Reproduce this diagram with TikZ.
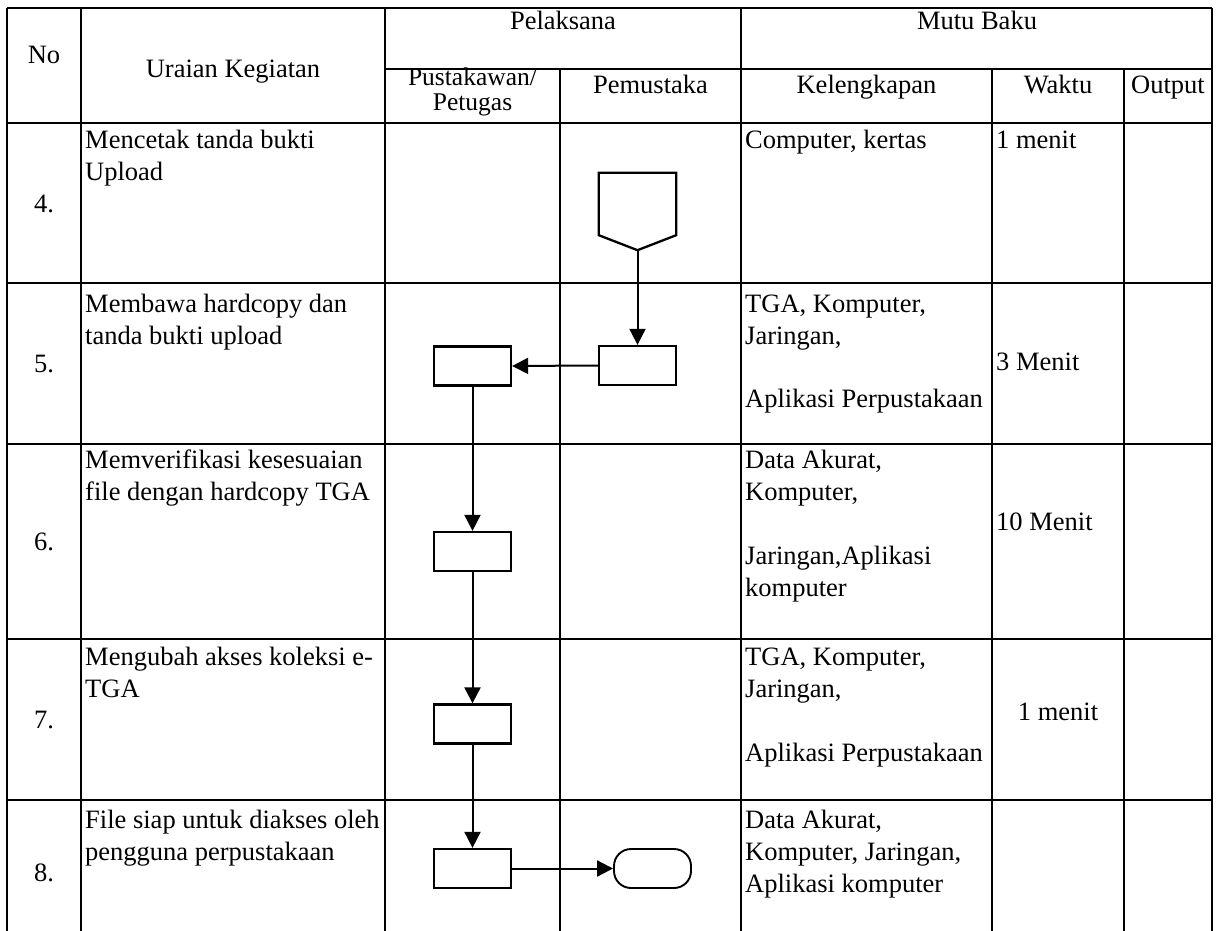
\documentclass[tikz,border=0pt]{standalone}
\usepackage{fontspec}
\setmainfont{Liberation Serif}
\usetikzlibrary{arrows.meta,calc}
\newcommand\celltext[1]{\begin{tabular}[t]{@{}l@{}}#1\end{tabular}}
\newcommand\celltextc[1]{\begin{tabular}[t]{@{}c@{}}#1\end{tabular}}
\begin{document}
\begin{tikzpicture}[x=1pt,y=-1pt,
  every node/.style={font=\fontsize{26.5}{32}\selectfont, inner sep=0pt},
  gridline/.style={line width=1.3pt},
  stepbox/.style={draw, line width=2.3pt, minimum width=77pt, minimum height=39pt},
  flow/.style={line width=2pt, -{Triangle[length=16pt,width=16pt]}},
  lefttext/.style={anchor=base west},
  midtext/.style={anchor=base}]
\useasboundingbox (0,0) rectangle (1219,931);
\fill[white] (0,0) rectangle (1219,931);
% table grid
\draw[gridline] (7,8) -- (1212,8);
\draw[gridline] (385,69) -- (1212,69);
\foreach \yy in {123,283,444,639,800} {\draw[gridline] (7,\yy) -- (1212,\yy);}
\foreach \xx in {7,81,385,741,1212} {\draw[gridline] (\xx,8) -- (\xx,931);}
\foreach \xx in {560,992,1124} {\draw[gridline] (\xx,69) -- (\xx,931);}
% header
\node[midtext] (hno) at (44,64) {No};
\node[midtext] (hur) at (233,78) {Uraian Kegiatan};
\node[midtext] (hpl) at (563,30) {Pelaksana};
\node[midtext] (hmb) at (977,30) {Mutu Baku};
\node[midtext, font=\fontsize{25.5}{25}\selectfont] (hpu) at (472.5,86) {\celltextc{Pustakawan/\\Petugas}};
\node[midtext] (hpm) at (650.5,94) {Pemustaka};
\node[midtext] (hke) at (866.5,94) {Kelengkapan};
\node[midtext] (hwa) at (1058,94) {Waktu};
\node[midtext] (hou) at (1168,94) {Output};
% numbers
\node[midtext] (n4) at (44,212) {4.};
\node[midtext] (n5) at (44,372) {5.};
\node[midtext] (n6) at (44,550) {6.};
\node[midtext] (n7) at (44,728) {7.};
\node[midtext] (n8) at (44,881) {8.};
% uraian
\node[lefttext] (u4) at (85,149) {\celltext{Mencetak tanda bukti\\Upload}};
\node[lefttext] (u5) at (85,312) {\celltext{Membawa hardcopy dan\\tanda bukti upload}};
\node[lefttext] (u6) at (85,468) {\celltext{Memverifikasi kesesuaian\\file dengan hardcopy TGA}};
\node[lefttext] (u7) at (85,665) {\celltext{Mengubah akses koleksi e-\\TGA}};
\node[lefttext] (u8) at (85,828) {\celltext{File siap untuk diakses oleh\\pengguna perpustakaan}};
% kelengkapan
\node[lefttext] (k4) at (745,149) {\celltext{Computer, kertas}};
\node[lefttext] (k5) at (745,312) {\celltext{TGA, Komputer,\\Jaringan,\\ \\Aplikasi Perpustakaan}};
\node[lefttext] (k6) at (745,468) {\celltext{Data Akurat,\\Komputer,\\ \\Jaringan,Aplikasi\\komputer}};
\node[lefttext] (k7) at (745,665) {\celltext{TGA, Komputer,\\Jaringan,\\ \\Aplikasi Perpustakaan}};
\node[lefttext] (k8) at (745,828) {\celltext{Data Akurat,\\Komputer, Jaringan,\\Aplikasi komputer}};
% waktu
\node[lefttext] (w4) at (996,149) {1 menit};
\node[lefttext] (w5) at (996,370) {3 Menit};
\node[lefttext] (w6) at (996,530) {10 Menit};
\node[midtext] (w7) at (1058,720) {1 menit};
% flow shapes
\node[minimum width=77pt, minimum height=77pt] (hex) at (637.5,211.5) {};
\draw[line width=2.3pt, line join=miter] (hex.north west) -- (hex.north east) -- ([yshift=15pt]hex.south east) -- (hex.south) -- ([yshift=15pt]hex.south west) -- cycle;
\node[stepbox] (p5) at (637.5,365.5) {};
\node[stepbox] (l5) at (472.5,366) {};
\node[stepbox] (l6) at (472.5,551.5) {};
\node[stepbox] (l7) at (472.5,724) {};
\node[stepbox] (l8) at (472.5,868.5) {};
\node[stepbox, line width=1.9pt, rounded corners=17pt] (term) at (652.5,868.5) {};
% connectors
\draw[flow] (hex.south) -- (p5.north);
\draw[flow] (p5.west) -- (l5.east);
\draw[flow] (l5.south) -- (l6.north);
\draw[flow] (l6.south) -- (l7.north);
\draw[flow] (l7.south) -- (l8.north);
\draw[flow] (l8.east) -- (term.west);
\end{tikzpicture}
\end{document}
